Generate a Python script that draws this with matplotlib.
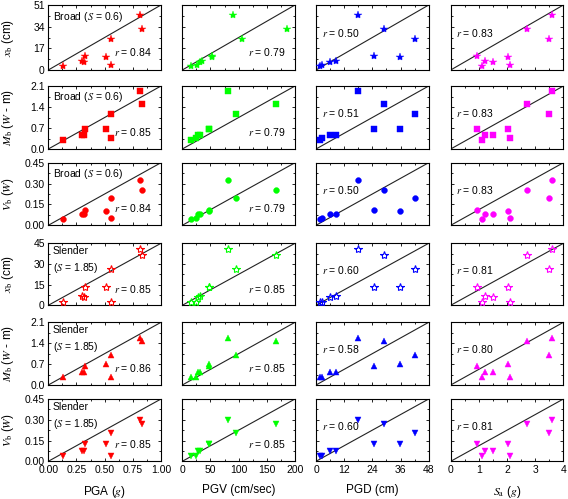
import matplotlib
matplotlib.use('Agg')
import matplotlib.pyplot as plt
from matplotlib.ticker import FormatStrFormatter, AutoMinorLocator

plt.rcParams['font.family'] = ['Liberation Sans', 'DejaVu Sans']
plt.rcParams['mathtext.fontset'] = 'stix'
plt.rcParams['font.size'] = 7.5

# ground motion intensity of the 9 records
pga = [0.133, 0.555, 0.316, 0.295, 0.327, 0.51, 0.555, 0.814, 0.832]
pgv = [14.8, 23.7, 27.2, 30.8, 47.3, 47.3, 95.3, 81.0, 166.9]
pgv_row1 = [16.0, 26.6, 30.8, 34.3, 52.0, 52.0, 106.0, 90.5, 185.8]
pgd = [1.7, 2.7, 6.0, 8.7, 24.9, 35.8, 42.3, 17.8, 29.1]
sa = [1.10, 2.09, 1.49, 1.21, 0.95, 2.04, 3.48, 3.59, 2.70]

# structural responses
xb_broad = [2.9, 3.7, 6.3, 6.8, 11.3, 10.5, 24.3, 43.2, 32.2]
mb_broad = [0.30, 0.36, 0.48, 0.48, 0.67, 0.66, 1.18, 1.94, 1.50]
vb_broad = [0.045, 0.055, 0.079, 0.079, 0.108, 0.103, 0.194, 0.323, 0.251]
xb_slender = [2.2, 2.4, 6.3, 6.8, 13.6, 13.6, 26.4, 40.9, 36.6]
mb_slender = [0.26, 0.27, 0.43, 0.43, 0.63, 0.69, 1.02, 1.59, 1.46]
vb_slender = [0.041, 0.041, 0.075, 0.075, 0.123, 0.123, 0.202, 0.296, 0.270]

r_values = [[0.84, 0.79, 0.50, 0.83],
            [0.85, 0.79, 0.51, 0.83],
            [0.84, 0.79, 0.50, 0.83],
            [0.85, 0.85, 0.60, 0.81],
            [0.86, 0.85, 0.58, 0.80],
            [0.85, 0.85, 0.60, 0.81]]

responses = [xb_broad, mb_broad, vb_broad, xb_slender, mb_slender, vb_slender]
ylims = [51, 2.1, 0.45, 45, 2.1, 0.45]
yticks = [[0, 17, 34, 51], [0.0, 0.7, 1.4, 2.1], [0.0, 0.15, 0.30, 0.45],
          [0, 15, 30, 45], [0.0, 0.7, 1.4, 2.1], [0.0, 0.15, 0.30, 0.45]]
yfmt = ['%d', '%.1f', '%.2f', '%d', '%.1f', '%.2f']
ylabels = [r'$x_{\rm b}$ (cm)', r'$M_{\rm b}$ ($W$ - m)', r'$V_{\rm b}$ ($W$)',
           r'$x_{\rm b}$ (cm)', r'$M_{\rm b}$ ($W$ - m)', r'$V_{\rm b}$ ($W$)']
row_text = [r'Broad ($S$ = 0.6)'] * 3 + ['Slender\n' + r'($S$ = 1.85)'] * 3

xlims = [1.0, 200, 48, 4]
xticks = [[0, 0.25, 0.5, 0.75, 1.0], [0, 50, 100, 150, 200],
          [0, 12, 24, 36, 48], [0, 1, 2, 3, 4]]
xfmt = ['%.2f', '%d', '%d', '%d']
xlabels = [r'PGA ($g$)', 'PGV (cm/sec)', 'PGD (cm)', r'$S_{\rm a}$ ($g$)']
colors = ['#ff0000', '#00ff00', '#0000ff', '#ff00ff']

markers = ['*', 's', 'o', '*', '^', 'v']
msizes = [6.0, 3.8, 4.2, 6.0, 4.5, 4.5]
filled = [True, True, True, False, True, True]

W, H = 568.0, 499.0
col_left = [48.3, 182.3, 316.0, 450.7]
col_w = 112.7
row_top = [5.0, 86.0, 162.7, 243.3, 322.3, 399.0]
row_bot = [70.0, 149.0, 225.3, 305.3, 385.0, 461.3]

fig = plt.figure(figsize=(W / 100, H / 100), dpi=100)

for i in range(6):
    for j in range(4):
        ax = fig.add_axes([col_left[j] / W, 1 - row_bot[i] / H,
                           col_w / W, (row_bot[i] - row_top[i]) / H])
        if j == 0:
            xs = pga
        elif j == 1:
            xs = pgv_row1 if i == 0 else pgv
        elif j == 2:
            xs = pgd
        else:
            xs = sa
        c = colors[j]
        ax.plot(xs, responses[i], linestyle='none', marker=markers[i],
                markersize=msizes[i], markerfacecolor=c if filled[i] else 'none',
                markeredgecolor=c, markeredgewidth=0.8 if not filled[i] else 0.3,
                clip_on=False, zorder=3)
        ax.plot([0, 1], [0, 1], transform=ax.transAxes, color='#222222', lw=0.8)

        ax.set_xlim(0, xlims[j])
        ax.set_ylim(0, ylims[i])
        ax.set_xticks(xticks[j])
        ax.set_yticks(yticks[i])
        ax.xaxis.set_major_formatter(FormatStrFormatter(xfmt[j]))
        ax.yaxis.set_major_formatter(FormatStrFormatter(yfmt[i]))
        ax.xaxis.set_minor_locator(AutoMinorLocator(2))
        ax.yaxis.set_minor_locator(AutoMinorLocator(2))
        ax.tick_params(which='both', direction='in', top=True, right=True,
                       width=0.6, pad=2.5, labelsize=7.5)
        ax.tick_params(which='major', length=2.5)
        ax.tick_params(which='minor', length=1.5)
        for s in ax.spines.values():
            s.set_linewidth(0.8)

        if j != 0:
            ax.set_yticklabels([])
        else:
            ax.set_ylabel(ylabels[i], fontsize=8.5)
            ax.yaxis.set_label_coords(-0.29, 0.5)
            ax.text(0.04, 0.93 if i < 3 else 0.95, row_text[i], transform=ax.transAxes,
                    ha='left', va='top', fontsize=7.5, linespacing=1.45)
        if i != 5:
            ax.set_xticklabels([])
        else:
            ax.set_xlabel(xlabels[j], fontsize=8.5)
            ax.xaxis.set_label_coords(0.5, -0.36)

        if j < 2:
            rx, ry = 0.58, 0.27
        else:
            rx, ry = 0.05, 0.57
        ax.text(rx, ry, r'$r$ = %.2f' % r_values[i][j], transform=ax.transAxes,
                ha='left', va='center', fontsize=7.5)

fig.savefig('out.png', dpi=100)
